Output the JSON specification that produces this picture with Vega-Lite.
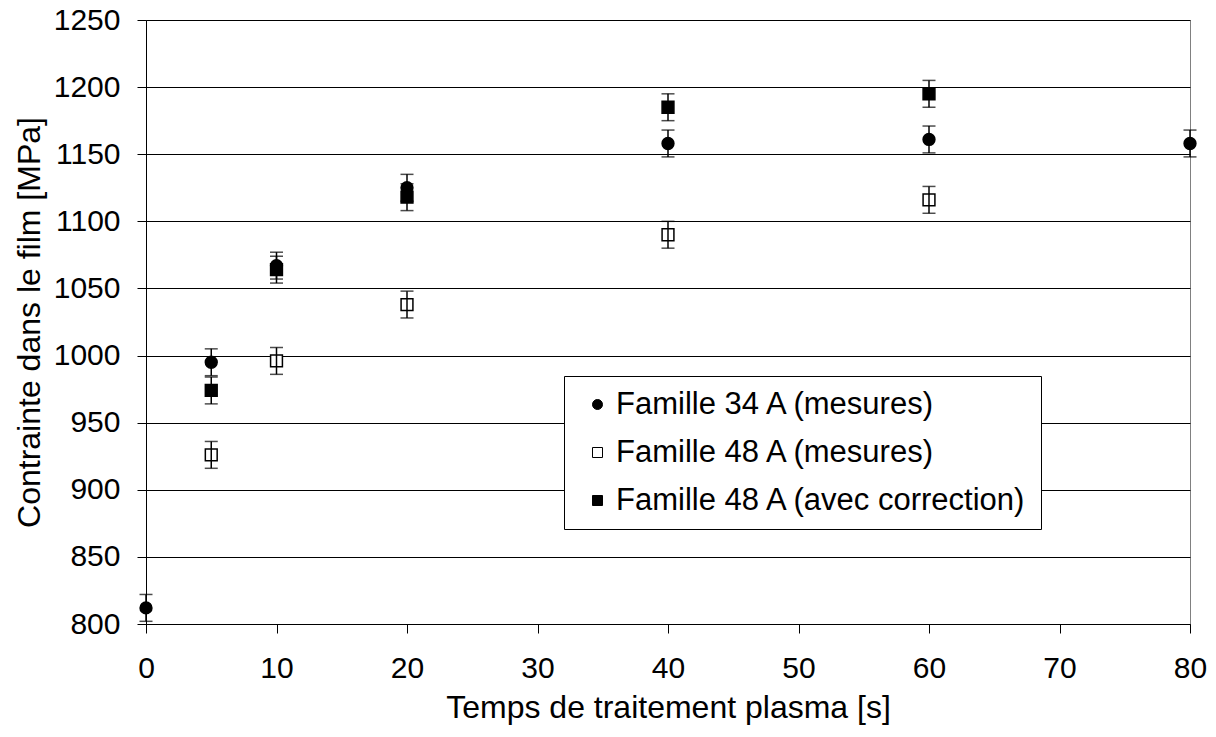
{
  "$schema": "https://vega.github.io/schema/vega-lite/v6.json",
  "width": 1044,
  "height": 604,
  "autosize": "none",
  "padding": {"left": 146, "top": 20, "right": 26, "bottom": 113},
  "background": "white",
  "config": {
    "font": "Liberation Sans",
    "view": {"stroke": "#808080", "strokeWidth": 1},
    "axis": {
      "labelFont": "Liberation Sans",
      "titleFont": "Liberation Sans",
      "labelFontSize": 30,
      "titleFontSize": 32,
      "labelColor": "black",
      "titleColor": "black",
      "titleFontWeight": "normal",
      "domainColor": "black",
      "tickColor": "black",
      "domainWidth": 1,
      "tickWidth": 1,
      "tickSize": 9
    },
    "legend": {
      "title": null,
      "orient": "none",
      "legendX": 418,
      "legendY": 356,
      "strokeColor": "black",
      "fillColor": "white",
      "padding": 13,
      "labelFont": "Liberation Sans",
      "labelFontSize": 31,
      "labelColor": "black",
      "labelLimit": 600,
      "symbolSize": 100,
      "symbolStrokeColor": "black",
      "symbolStrokeWidth": 1,
      "symbolOffset": 5,
      "labelOffset": 3,
      "rowPadding": 16
    }
  },
  "data": {
    "values": [
      {"temps": 0, "serie": "Famille 34 A (mesures)", "contrainte": 812, "err": 10},
      {"temps": 5, "serie": "Famille 34 A (mesures)", "contrainte": 995, "err": 10},
      {"temps": 10, "serie": "Famille 34 A (mesures)", "contrainte": 1067, "err": 10},
      {"temps": 20, "serie": "Famille 34 A (mesures)", "contrainte": 1125, "err": 10},
      {"temps": 40, "serie": "Famille 34 A (mesures)", "contrainte": 1158, "err": 10},
      {"temps": 60, "serie": "Famille 34 A (mesures)", "contrainte": 1161, "err": 10},
      {"temps": 80, "serie": "Famille 34 A (mesures)", "contrainte": 1158, "err": 10},
      {"temps": 5, "serie": "Famille 48 A (mesures)", "contrainte": 926, "err": 10},
      {"temps": 10, "serie": "Famille 48 A (mesures)", "contrainte": 996, "err": 10},
      {"temps": 20, "serie": "Famille 48 A (mesures)", "contrainte": 1038, "err": 10},
      {"temps": 40, "serie": "Famille 48 A (mesures)", "contrainte": 1090, "err": 10},
      {"temps": 60, "serie": "Famille 48 A (mesures)", "contrainte": 1116, "err": 10},
      {"temps": 5, "serie": "Famille 48 A (avec correction)", "contrainte": 974, "err": 10},
      {"temps": 10, "serie": "Famille 48 A (avec correction)", "contrainte": 1064, "err": 10},
      {"temps": 20, "serie": "Famille 48 A (avec correction)", "contrainte": 1118, "err": 10},
      {"temps": 40, "serie": "Famille 48 A (avec correction)", "contrainte": 1185, "err": 10},
      {"temps": 60, "serie": "Famille 48 A (avec correction)", "contrainte": 1195, "err": 10}
    ]
  },
  "encoding": {
    "x": {
      "field": "temps",
      "type": "quantitative",
      "scale": {"domain": [0, 80], "nice": false, "zero": false},
      "axis": {
        "title": "Temps de traitement plasma [s]",
        "values": [0, 10, 20, 30, 40, 50, 60, 70, 80],
        "grid": false,
        "labelPadding": 20,
        "titlePadding": 9,
        "labelFlush": false
      }
    }
  },
  "layer": [
    {
      "mark": {"type": "point", "filled": false, "strokeWidth": 1.5, "size": 140, "opacity": 1},
      "encoding": {
        "y": {
          "field": "contrainte",
          "type": "quantitative",
          "title": "Contrainte dans le film [MPa]",
          "scale": {"domain": [800, 1250], "nice": false, "zero": false},
          "axis": {
            "values": [800, 850, 900, 950, 1000, 1050, 1100, 1150, 1200, 1250],
            "format": "d",
            "grid": true,
            "gridColor": "black",
            "gridOpacity": 1,
            "gridWidth": 1,
            "labelPadding": 17,
            "titlePadding": 7,
            "labelFlush": false
          }
        },
        "shape": {
          "field": "serie",
          "type": "nominal",
          "scale": {
            "domain": ["Famille 34 A (mesures)", "Famille 48 A (mesures)", "Famille 48 A (avec correction)"],
            "range": ["circle", "square", "square"]
          }
        },
        "fill": {
          "field": "serie",
          "type": "nominal",
          "scale": {
            "domain": ["Famille 34 A (mesures)", "Famille 48 A (mesures)", "Famille 48 A (avec correction)"],
            "range": ["black", "white", "black"]
          }
        },
        "stroke": {
          "field": "serie",
          "type": "nominal",
          "scale": {
            "domain": ["Famille 34 A (mesures)", "Famille 48 A (mesures)", "Famille 48 A (avec correction)"],
            "range": ["black", "black", "black"]
          }
        }
      }
    },
    {
      "mark": {
        "type": "errorbar",
        "color": "black",
        "ticks": {"size": 13, "thickness": 1.5, "color": "black"},
        "rule": {"strokeWidth": 1.5, "color": "black"}
      },
      "encoding": {
        "y": {"field": "contrainte", "type": "quantitative", "title": "Contrainte dans le film [MPa]"},
        "yError": {"field": "err"},
        "detail": {"field": "serie", "type": "nominal"}
      }
    }
  ]
}
